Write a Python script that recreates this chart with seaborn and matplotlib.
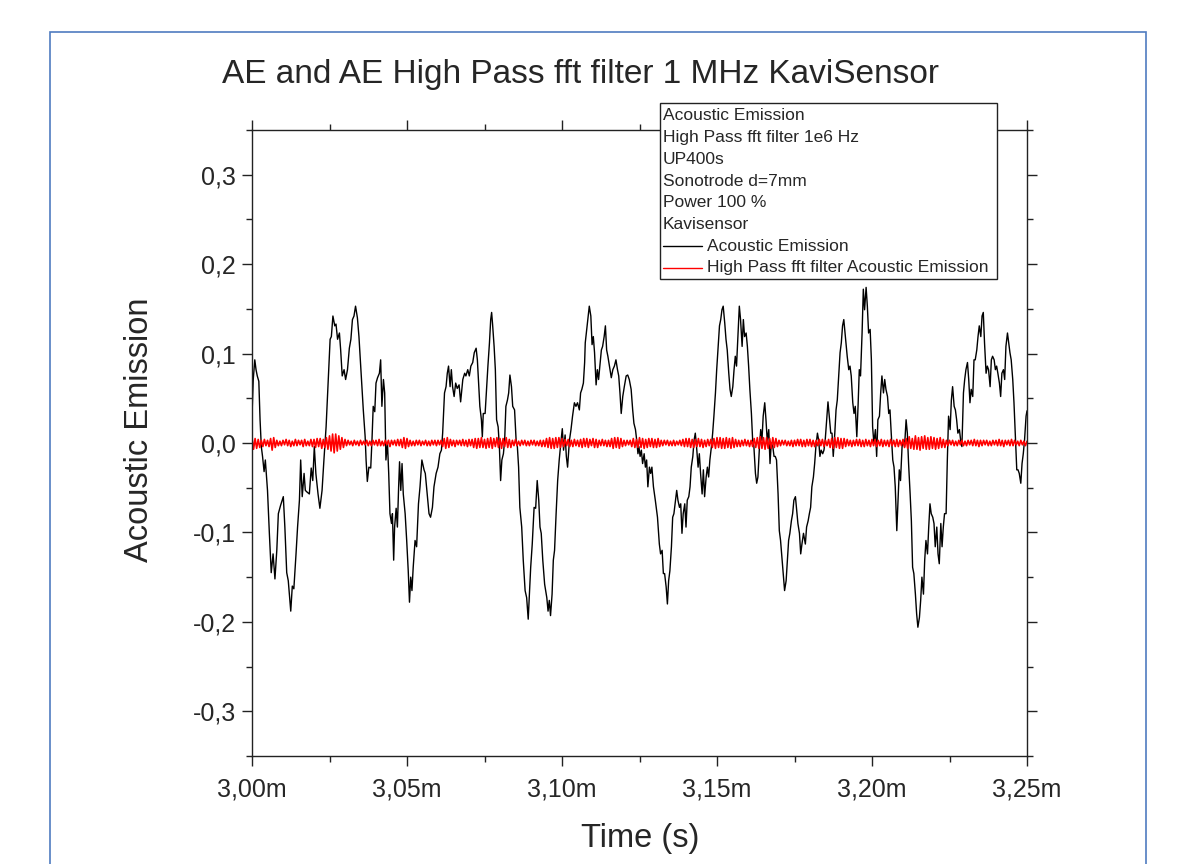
import numpy as np
import seaborn as sns
import matplotlib.pyplot as plt
from matplotlib.patches import Rectangle
from matplotlib.lines import Line2D
from matplotlib.ticker import FixedLocator, FuncFormatter

# time offsets in microseconds after 3.00 ms
ae_time_us = [
    # 3.000 - 3.036 ms
    0.0, 0.4, 0.9, 1.3, 1.7, 2.2, 2.6, 3.0, 3.4, 3.9, 4.3, 5.0, 5.6, 6.2, 6.8, 7.4, 8.0, 8.5, 9.2, 10.1,
    10.6, 11.2, 11.7, 12.5, 13.0, 13.5, 14.2, 14.7, 15.3, 15.7, 16.2, 16.8, 17.2, 17.8, 18.5, 19.1, 19.6,
    20.1, 20.6, 21.3, 21.9, 22.6, 23.2, 23.9, 24.5, 25.2, 25.6, 26.1, 26.7, 27.1, 27.6, 28.2, 28.6, 29.1,
    29.7, 30.2, 30.8, 31.4, 31.9, 32.4, 32.9, 33.4, 34.0, 34.5, 35.2, 35.9, 36.5,
    # 3.036 - 3.072 ms
    36.8, 37.2, 37.7, 38.3, 38.7, 39.1, 39.6, 40.0, 40.5, 41.1, 41.5, 41.9, 42.4, 42.8, 43.2, 43.7, 44.1,
    44.5, 45.0, 45.3, 45.7, 46.0, 46.5, 46.9, 47.3, 47.6, 48.0, 48.4, 48.8, 49.4, 49.9, 50.4, 50.8, 51.2,
    51.6, 52.0, 52.6, 53.1, 53.7, 54.2, 54.8, 55.5, 55.9, 56.6, 57.1, 57.6, 58.2, 58.7, 59.4, 60.0, 60.6,
    61.1, 61.5, 62.1, 62.6, 63.0, 63.4, 63.9, 64.3, 64.7, 65.2, 65.7, 66.2, 66.8, 67.3, 68.0, 68.6, 69.0,
    69.6, 70.1, 70.6, 71.2, 71.7,
    # 3.072 - 3.107 ms
    72.3, 72.7, 73.1, 73.5, 74.0, 74.3, 74.6, 75.2, 75.7, 76.1, 76.6, 77.0, 77.3, 77.6, 78.1, 78.5, 78.9,
    79.4, 79.8, 80.2, 80.6, 81.1, 81.5, 81.9, 82.4, 82.8, 83.2, 83.7, 84.1, 84.7, 85.2, 85.6, 86.0, 86.4,
    87.0, 87.5, 88.1, 88.6, 89.1, 89.5, 89.9, 90.4, 91.0, 91.5, 92.0, 92.5, 92.9, 93.3, 93.8, 94.4, 95.1,
    95.5, 95.9, 96.3, 96.8, 97.2, 97.6, 98.1, 98.6, 99.1, 99.7, 100.1, 100.5, 101.0, 101.4, 101.8, 102.4,
    102.9, 103.4, 104.0, 104.5, 105.0, 105.6, 106.0, 106.4, 106.9, 107.3,
    # 3.107 - 3.143 ms
    107.5, 108.2, 108.8, 109.3, 109.7, 110.1, 110.5, 111.0, 111.4, 111.8, 112.7, 113.1, 113.6, 114.0,
    114.4, 114.8, 115.3, 115.9, 116.4, 116.9, 117.4, 117.9, 118.3, 118.7, 119.1, 119.6, 120.1, 120.7,
    121.2, 121.7, 122.3, 122.8, 123.2, 123.7, 124.1, 124.5, 124.8, 125.2, 125.6, 126.0, 126.5, 126.9,
    127.3, 127.7, 128.2, 128.6, 129.0, 129.5, 130.1, 130.8, 131.4, 131.8, 132.3, 132.7, 133.1, 133.6,
    134.0, 134.4, 134.8, 135.3, 135.7, 136.1, 136.6, 137.0, 137.4, 137.9, 138.3, 138.7, 139.1, 139.6,
    140.0, 140.4, 140.9, 141.3, 141.7, 142.2, 142.6,
    # 3.143 - 3.178 ms
    143.0, 143.4, 143.9, 144.3, 144.7, 145.2, 145.6, 146.0, 146.5, 146.9, 147.3, 147.7, 148.2, 148.6,
    149.0, 149.5, 149.9, 150.3, 150.8, 151.2, 151.6, 152.0, 152.5, 152.9, 153.3, 153.8, 154.2, 154.6,
    155.1, 155.5, 155.9, 156.3, 156.8, 157.2, 157.6, 158.1, 158.5, 158.9, 159.4, 159.8, 160.2, 160.6,
    161.1, 161.5, 161.9, 162.4, 162.8, 163.2, 163.7, 164.1, 164.5, 164.9, 165.4, 165.8, 166.2, 166.7,
    167.1, 167.5, 168.0, 168.4, 168.8, 169.2, 169.7, 170.1, 170.5, 171.0, 171.4, 171.8, 172.3, 172.7,
    173.1, 173.5, 174.0, 174.4, 174.8, 175.3, 175.7, 176.1, 176.6, 177.0, 177.4, 177.9, 178.3,
    # 3.178 - 3.214 ms
    178.5, 178.9, 179.4, 179.8, 180.2, 180.6, 181.1, 181.5, 181.9, 182.4, 182.8, 183.2, 183.6, 184.1,
    184.5, 184.9, 185.4, 185.8, 186.2, 186.7, 187.1, 187.5, 188.0, 188.4, 188.8, 189.2, 189.7, 190.1,
    190.5, 190.9, 191.2, 191.6, 192.0, 192.5, 192.9, 193.3, 193.8, 194.2, 194.6, 195.1, 195.5, 195.9,
    196.3, 196.8, 197.2, 197.6, 198.1, 198.5, 198.9, 199.4, 199.8, 200.2, 200.6, 201.1, 201.5, 201.9,
    202.4, 202.8, 203.2, 203.7, 204.1, 204.5, 205.0, 205.4, 205.8, 206.2, 206.7, 207.1, 207.5, 208.0,
    208.4, 208.8, 209.2, 209.7, 210.1, 210.5, 211.0, 211.4, 211.8, 212.3, 212.7, 213.1, 213.5,
    # 3.214 - 3.250 ms
    214.0, 214.4, 214.8, 215.3, 215.7, 216.1, 216.6, 217.0, 217.4, 217.9, 218.3, 218.7, 219.1, 219.6,
    220.0, 220.4, 220.9, 221.3, 221.7, 222.2, 222.6, 223.0, 223.4, 223.9, 224.3, 224.7, 225.2, 225.6,
    226.0, 226.5, 226.9, 227.3, 227.7, 228.2, 228.6, 229.0, 229.5, 229.9, 230.3, 230.8, 231.2, 231.6,
    232.0, 232.5, 232.9, 233.3, 233.8, 234.2, 234.6, 235.1, 235.5, 235.9, 236.3, 236.8, 237.2, 237.6,
    238.1, 238.5, 238.9, 239.4, 239.8, 240.2, 240.6, 241.1, 241.5, 241.9, 242.4, 242.8, 243.2, 243.7,
    244.1, 244.5, 244.9, 245.4, 245.8, 246.2, 246.7, 247.1, 247.5, 248.0, 248.4, 248.8, 249.2, 249.7,
    250.0,
]

ae_value = [
    0.030, 0.071, 0.093, 0.082, 0.075, 0.069, 0.026, -0.004, -0.015, -0.032, -0.019, -0.053, -0.101,
    -0.145, -0.124, -0.152, -0.120, -0.079, -0.070, -0.060, -0.094, -0.145, -0.154, -0.188, -0.160,
    -0.163, -0.124, -0.094, -0.064, -0.019, -0.060, -0.034, -0.053, -0.055, -0.057, -0.028, -0.042,
    -0.004, -0.034, -0.057, -0.073, -0.053, -0.019, 0.018, 0.063, 0.116, 0.119, 0.142, 0.131, 0.133,
    0.116, 0.123, 0.104, 0.075, 0.082, 0.071, 0.082, 0.106, 0.116, 0.138, 0.142, 0.153, 0.140, 0.119,
    0.078, 0.037, 0.007,
    -0.019, -0.043, -0.027, -0.028, 0.003, 0.041, 0.035, 0.067, 0.073, 0.078, 0.093, 0.041, 0.071,
    0.056, -0.019, 0.000, -0.034, -0.079, -0.090, -0.079, -0.131, -0.094, -0.073, -0.094, -0.049,
    -0.021, -0.053, -0.023, -0.057, -0.079, -0.109, -0.143, -0.178, -0.150, -0.165, -0.139, -0.109,
    -0.116, -0.068, -0.049, -0.019, -0.030, -0.034, -0.060, -0.079, -0.083, -0.072, -0.049, -0.034,
    -0.027, -0.012, -0.008, 0.011, 0.056, 0.063, 0.078, 0.086, 0.063, 0.082, 0.063, 0.052, 0.067,
    0.061, 0.065, 0.046, 0.071, 0.078, 0.075, 0.082, 0.075, 0.086, 0.090, 0.101,
    0.106, 0.093, 0.067, 0.041, 0.026, 0.007, 0.033, 0.033, 0.063, 0.086, 0.112, 0.138, 0.146, 0.133,
    0.108, 0.082, 0.026, 0.018, -0.004, -0.042, -0.019, -0.012, 0.003, 0.041, 0.048, 0.056, 0.076,
    0.063, 0.041, 0.037, 0.003, -0.004, -0.027, -0.072, -0.094, -0.131, -0.165, -0.173, -0.197,
    -0.169, -0.139, -0.113, -0.072, -0.073, -0.042, -0.064, -0.094, -0.101, -0.131, -0.158, -0.173,
    -0.188, -0.176, -0.193, -0.169, -0.131, -0.120, -0.079, -0.042, -0.019, 0.003, 0.016, -0.008,
    0.009, -0.015, -0.027, 0.003, 0.015, 0.030, 0.045, 0.041, 0.045, 0.037, 0.056, 0.060, 0.067, 0.090,
    0.112, 0.134, 0.153, 0.142, 0.110, 0.119, 0.101, 0.065, 0.082, 0.071, 0.104, 0.108, 0.119, 0.131,
    0.104, 0.097, 0.086, 0.073, 0.082, 0.086, 0.093, 0.082, 0.075, 0.056, 0.033, 0.052, 0.063, 0.075,
    0.076, 0.071, 0.060, 0.037, 0.022, 0.015, 0.003, -0.012, -0.004, -0.015, -0.008, -0.023, -0.012,
    -0.027, -0.019, -0.049, -0.027, -0.034, -0.027, -0.049, -0.064, -0.083, -0.113, -0.124, -0.120,
    -0.146, -0.146, -0.161, -0.180, -0.154, -0.143, -0.116, -0.083, -0.079, -0.064, -0.053, -0.064,
    -0.072, -0.068, -0.101, -0.079, -0.068, -0.094, -0.064, -0.060, -0.049, -0.027, -0.015, 0.003,
    0.011, -0.004, -0.027, -0.012, -0.034, -0.057, -0.030, -0.060, -0.038, -0.027, -0.038, -0.019,
    -0.004, 0.011, 0.030, 0.056, 0.082, 0.104, 0.131, 0.138, 0.149, 0.153, 0.134, 0.116, 0.104, 0.078,
    0.060, 0.052, 0.063, 0.082, 0.097, 0.086, 0.123, 0.153, 0.138, 0.108, 0.138, 0.119, 0.123, 0.108,
    0.086, 0.060, 0.033, 0.003, -0.004, -0.034, -0.045, -0.038, -0.004, 0.015, 0.003, 0.030, 0.045,
    0.026, 0.003, 0.015, -0.023, 0.000, -0.004, -0.015, -0.015, -0.019, -0.057, -0.098, -0.109, -0.131,
    -0.150, -0.165, -0.154, -0.131, -0.109, -0.101, -0.087, -0.079, -0.064, -0.060, -0.075, -0.090,
    -0.101, -0.124, -0.113, -0.101, -0.109,
    -0.113, -0.094, -0.087, -0.079, -0.072, -0.049, -0.038, -0.023, -0.004, 0.011, 0.003, -0.015,
    -0.008, -0.012, -0.008, 0.003, 0.026, 0.046, 0.030, 0.011, 0.011, -0.015, 0.011, 0.037, 0.048,
    0.071, 0.101, 0.112, 0.131, 0.138, 0.127, 0.112, 0.097, 0.082, 0.086, 0.075, 0.045, 0.033, 0.041,
    0.007, 0.041, 0.082, 0.075, 0.123, 0.172, 0.149, 0.174, 0.153, 0.123, 0.127, 0.093, 0.018, 0.000,
    0.015, -0.015, 0.026, 0.030, 0.056, 0.075, 0.056, 0.071, 0.060, 0.052, 0.033, 0.037, 0.011, -0.019,
    -0.027, -0.049, -0.098, -0.064, -0.030, -0.042, -0.004, 0.003, -0.004, 0.026, 0.011, -0.023,
    -0.057, -0.087, -0.139, -0.146,
    -0.169, -0.191, -0.206, -0.195, -0.176, -0.150, -0.169, -0.131, -0.109, -0.124, -0.094, -0.068,
    -0.079, -0.083, -0.090, -0.116, -0.094, -0.124, -0.135, -0.090, -0.116, -0.094, -0.079, -0.079,
    -0.019, 0.030, 0.015, 0.048, 0.063, 0.041, 0.037, 0.026, 0.011, 0.015, 0.003, -0.004, 0.056, 0.071,
    0.082, 0.090, 0.071, 0.045, 0.060, 0.052, 0.093, 0.093, 0.104, 0.119, 0.131, 0.119, 0.142, 0.146,
    0.112, 0.078, 0.086, 0.082, 0.063, 0.093, 0.097, 0.093, 0.082, 0.086, 0.078, 0.067, 0.052, 0.078,
    0.082, 0.071, 0.108, 0.123, 0.112, 0.101, 0.093, 0.071, 0.045, 0.011, -0.030, -0.030, -0.034,
    -0.045, -0.023, -0.012, 0.003, 0.030, 0.036,
]

# high pass filtered signal, in units of 1e-3, evenly sampled over 3.00 - 3.25 ms
hp_value_milli = [
    6, -7, 5, -6, 4, -5, 3, -4, 4, -3, 3, -4, 5, -8, 6, -5, 3, -3, 2, -3,
    3, -2, 4, -3, 3, -4, 2, -3, 4, -3, 3, -2, 3, -4, 4, -3, 2, -3, 4, -4,
    4, -5, 5, -4, 5, -6, 4, -5, 6, -7, 8, -9, 10, -11, 10, -9, 8, -7, 6, -5,
    4, -3, 3, -2, 2, -3, 3, -2, 2, -3, 3, -2, 2, -2, 3, -3, 2, -3, 3, -2,
    3, -3, 4, -3, 2, -3, 3, -2, 3, -4, 3, -2, 3, -3, 4, -3, 4, -5, 6, -6,
    5, -4, 3, -3, 2, -3, 3, -2, 3, -3, 2, -2, 3, -3, 2, -3, 3, -2, 3, -3,
    3, -2, 3, -4, 5, -6, 6, -5, 4, -3, 3, -4, 3, -2, 3, -3, 4, -3, 3, -4,
    4, -3, 4, -5, 5, -6, 5, -5, 6, -5, 4, -6, 5, -5, 6, -6, 5, -4, 6, -5,
    5, -6, 5, -4, 6, -5, 4, -5, 3, -3, 4, -3, 2, -3, 3, -2, 3, -3, 2, -3,
    3, -2, 3, -3, 2, -3, 3, -4, 3, -4, 5, -5, 6, -6, 5, -6, 6, -5, 6, -5,
    5, -4, 4, -3, 4, -4, 3, -4, 4, -3, 3, -4, 4, -5, 5, -4, 5, -5, 4, -3,
    5, -5, 4, -5, 3, -3, 4, -3, 3, -4, 3, -4, 5, -6, 6, -5, 6, -6, 5, -4,
    3, -3, 3, -2, 3, -4, 5, -5, 4, -5, 6, -5, 5, -6, 4, -5, 5, -4, 5, -5,
    4, -5, 5, -4, 3, -3, 3, -2, 3, -3, 2, -3, 3, -3, 2, -2, 3, -3, 4, -4,
    5, -4, 5, -5, 4, -5, 4, -4, 5, -4, 4, -5, 3, -4, 4, -3, 4, -5, 5, -6,
    6, -5, 6, -6, 5, -6, 6, -5, 5, -6, 6, -5, 4, -4, 3, -4, 3, -3, 4, -3,
    3, -4, 3, -4, 5, -5, 6, -6, 7, -6, 6, -7, 6, -6, 5, -6, 6, -5, 5, -4,
    3, -3, 3, -2, 3, -3, 2, -3, 3, -4, 3, -3, 4, -3, 4, -4, 3, -4, 4, -3,
    4, -4, 3, -4, 3, -3, 4, -3, 4, -4, 3, -3, 4, -5, 5, -6, 6, -5, 6, -6,
    5, -6, 5, -4, 4, -3, 3, -4, 3, -3, 4, -3, 4, -4, 3, -4, 4, -3, 3, -4,
    4, -3, 4, -4, 3, -3, 4, -4, 3, -3, 3, -4, 4, -3, 3, -4, 4, -4, 3, -3,
    4, -5, 5, -6, 7, -6, 5, -7, 8, -7, 6, -8, 7, -6, 8, -7, 6, -7, 7, -6,
    6, -7, 5, -6, 6, -5, 4, -5, 3, -3, 3, -2, 3, -3, 2, -3, 3, -2, 3, -3,
    2, -3, 3, -2, 3, -3, 4, -3, 3, -4, 3, -3, 3, -2, 3, -3, 2, -3, 3, -2,
    3, -3, 4, -3, 3, -4, 3, -2, 3, -3, 4, -3, 3, -2, 2, -3, 3, -2, 2, -3,
    2,
]

x_ticks = [3.00, 3.05, 3.10, 3.15, 3.20, 3.25]
x_minor = [3.025, 3.075, 3.125, 3.175, 3.225]
y_ticks = [-0.3, -0.2, -0.1, 0.0, 0.1, 0.2, 0.3]
y_minor = [-0.35, -0.25, -0.15, -0.05, 0.05, 0.15, 0.25, 0.35]

legend_text = [
    "Acoustic Emission",
    "High Pass fft filter 1e6 Hz",
    "UP400s",
    "Sonotrode d=7mm",
    "Power 100 %",
    "Kavisensor",
]
series_names = ["Acoustic Emission", "High Pass fft filter Acoustic Emission"]
series_colors = ["black", "#ff0000"]

sns.set_style("ticks")
plt.rcParams["font.family"] = ["Liberation Sans", "DejaVu Sans"]

W, H = 1196, 864
fig = plt.figure(figsize=(W / 100, H / 100), dpi=100)
ax = fig.add_axes([252 / W, 1 - 756 / H, 775 / W, 626 / H])

ae_time = 3.0 + np.array(ae_time_us) / 1000.0
hp_value = np.array(hp_value_milli) / 1000.0
hp_time = np.linspace(3.00, 3.25, len(hp_value))

sns.lineplot(x=ae_time, y=ae_value, ax=ax, color=series_colors[0], lw=1.0,
             estimator=None, sort=False)
sns.lineplot(x=hp_time, y=hp_value, ax=ax, color=series_colors[1], lw=1.2,
             estimator=None, sort=False)

ax.set_xlim(3.00, 3.25)
ax.set_ylim(-0.35, 0.35)
ax.xaxis.set_major_locator(FixedLocator(x_ticks))
ax.xaxis.set_minor_locator(FixedLocator(x_minor))
ax.yaxis.set_major_locator(FixedLocator(y_ticks))
ax.yaxis.set_minor_locator(FixedLocator(y_minor))
ax.xaxis.set_major_formatter(FuncFormatter(lambda v, p: f"{v:.2f}m".replace(".", ",")))
ax.yaxis.set_major_formatter(FuncFormatter(lambda v, p: f"{v + 0.0:.1f}".replace(".", ",")))

for s in ax.spines.values():
    s.set_visible(True)
    s.set_color("#222222")
    s.set_linewidth(1.0)

ax.tick_params(which="both", direction="out", top=True, right=True,
               labeltop=False, labelright=False, color="#222222", width=1.0)
ax.tick_params(which="major", length=7.5, labelsize=18)
ax.tick_params(axis="x", which="major", pad=8)
ax.tick_params(axis="y", which="major", pad=4)
ax.tick_params(which="minor", length=4.5)
ax.set_xlabel("")
ax.set_ylabel("")

fig.text(581 / W, 1 - 75 / H, "AE and AE High Pass fft filter 1 MHz KaviSensor",
         ha="center", va="center", fontsize=24)
fig.text(140 / W, 1 - 430 / H, "Acoustic Emission", rotation=90,
         ha="center", va="center", fontsize=23.5)
fig.text(640 / W, 1 - 838 / H, "Time (s)", ha="center", va="center", fontsize=23.5)

# legend box drawn by hand, Origin style
fig.add_artist(Rectangle((660 / W, 1 - 279 / H), 337 / W, 176 / H,
                         transform=fig.transFigure, facecolor="white",
                         edgecolor="#222222", lw=1.0, zorder=10))
row_y = [1 - (116 + k * 21.7) / H for k in range(8)]
for k, txt in enumerate(legend_text):
    fig.text(663 / W, row_y[k], txt, ha="left", va="center", fontsize=12.5, zorder=11)
for k, (name, col) in enumerate(zip(series_names, series_colors)):
    yk = row_y[6 + k]
    fig.add_artist(Line2D([663 / W, 702 / W], [yk, yk], transform=fig.transFigure,
                          color=col, lw=1.0, zorder=11))
    fig.text(707 / W, yk, name, ha="left", va="center", fontsize=12.5, zorder=11)

# outer page frame
fig.add_artist(Rectangle((50 / W, -0.02), 1096 / W, 1 - 32 / H + 0.02,
                         transform=fig.transFigure, facecolor="none",
                         edgecolor="#4f7cc0", lw=1.2, zorder=12))

fig.savefig("out.png", dpi=100)
